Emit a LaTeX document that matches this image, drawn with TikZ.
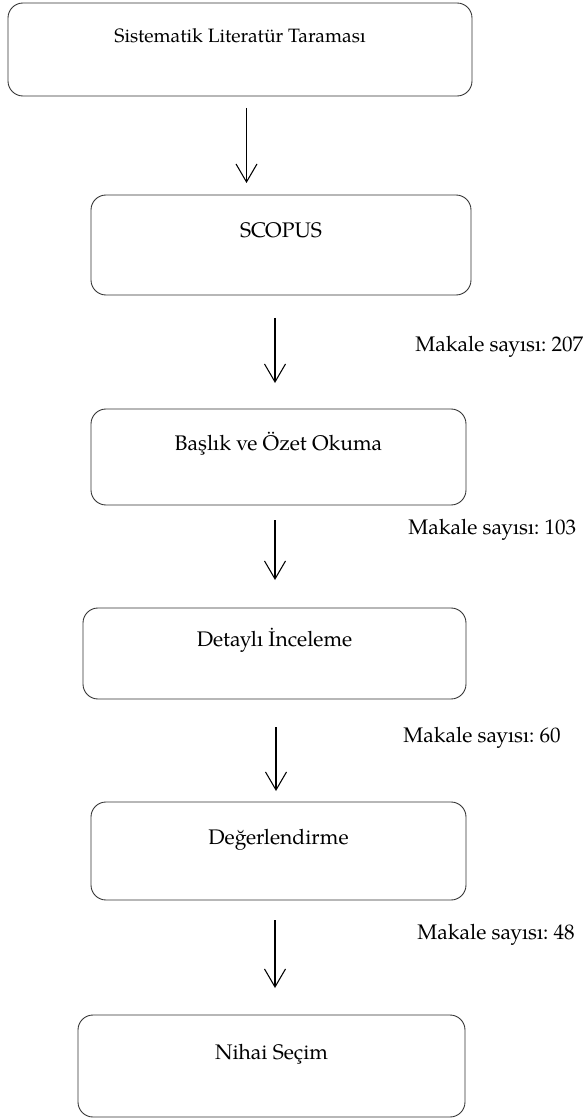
\documentclass[tikz,border=0pt]{standalone}
\usepackage{fontspec}
\setmainfont{TeX Gyre Pagella}
\usepackage{tikz}
\usetikzlibrary{arrows.meta, positioning}
\frenchspacing
\tikzset{
    stage/.style={
        rectangle, rounded corners=3mm, draw=black!80, line width=0.5pt,
        inner sep=0pt, align=center, font=\fontsize{12}{14}\selectfont,
        text height=3mm, text depth=5.8mm
    },
    flow/.style={
        line width=0.6pt, -{Straight Barb[length=3.6mm, width=4.2mm]}
    },
    count/.style={
        anchor=west, inner sep=0pt, font=\fontsize{12}{14}\selectfont
    }
}
\begin{document}
\begin{tikzpicture}
    \useasboundingbox (0,0) rectangle (11.66,-22.38);

    % Adimlar
    \node[stage, minimum width=9.28cm, minimum height=1.86cm, font=\fontsize{11}{13}\selectfont] (tarama) at (4.80, -0.99) {Sistematik Literatür Taraması};
    \node[stage, minimum width=7.60cm, minimum height=2.00cm] (scopus) at (5.62, -4.90) {SCOPUS};
    \node[stage, minimum width=7.50cm, minimum height=1.92cm] (baslik) at (5.57, -9.14) {Başlık ve Özet Okuma};
    \node[stage, minimum width=7.66cm, minimum height=1.82cm] (detay) at (5.49, -13.07) {Detaylı İnceleme};
    \node[stage, minimum width=7.50cm, minimum height=1.96cm] (deger) at (5.57, -17.02) {Değerlendirme};
    \node[stage, minimum width=7.74cm, minimum height=2.04cm] (nihai) at (5.43, -21.32) {Nihai Seçim};

    % Ok uclari
    \coordinate (a1s) at (4.93, -2.16);  \coordinate (a1e) at (4.93, -3.66);
    \coordinate (a2s) at (5.50, -6.36);  \coordinate (a2e) at (5.50, -7.66);
    \coordinate (a3s) at (5.50, -10.40); \coordinate (a3e) at (5.50, -11.60);
    \coordinate (a4s) at (5.52, -14.54); \coordinate (a4e) at (5.52, -15.82);
    \coordinate (a5s) at (5.50, -18.40); \coordinate (a5e) at (5.50, -19.76);

    \draw[flow] (a1s) -- (a1e);
    \draw[flow] (a2s) -- (a2e);
    \draw[flow] (a3s) -- (a3e);
    \draw[flow] (a4s) -- (a4e);
    \draw[flow] (a5s) -- (a5e);

    % Makale sayilari
    \node[count] (n207) at (8.30, -6.94) {Makale sayısı: 207};
    \node[count] (n103) at (8.16, -10.60) {Makale sayısı: 103};
    \node[count] (n60) at (8.06, -14.76) {Makale sayısı: 60};
    \node[count] (n48) at (8.34, -18.70) {Makale sayısı: 48};
\end{tikzpicture}
\end{document}
